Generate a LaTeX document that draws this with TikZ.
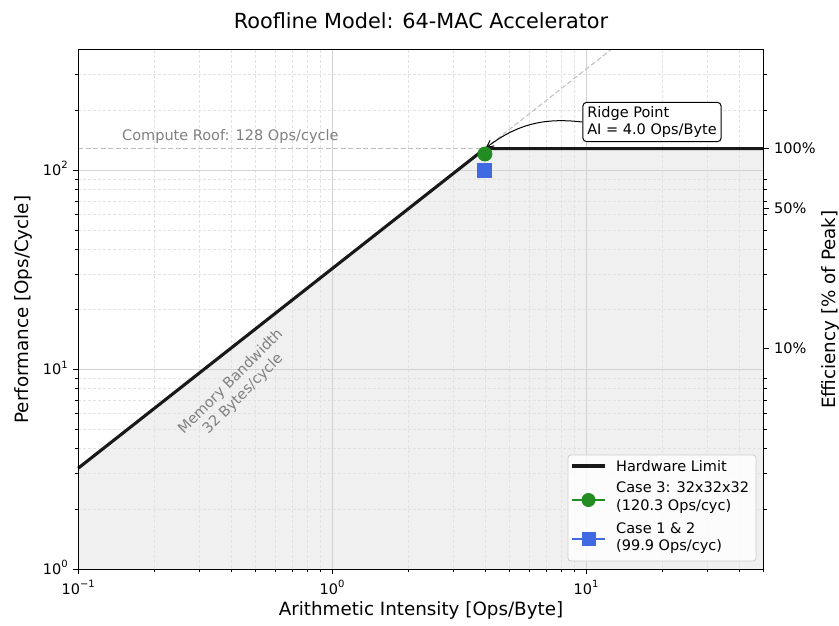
\documentclass[tikz,border=0pt]{standalone}
\usepackage{fontspec}
\setmainfont{DejaVu Sans}
\usetikzlibrary{arrows.meta}
\definecolor{cgreen}{RGB}{34,139,34}
\definecolor{cblue}{RGB}{65,105,225}
\definecolor{majgridc}{RGB}{210,210,210}
\definecolor{mingridc}{RGB}{226,226,226}
\definecolor{roofgray}{RGB}{190,190,190}
\definecolor{fillgray}{RGB}{240,240,240}
\definecolor{txtgray}{RGB}{128,128,128}
\newcommand{\tenp}[1]{10\raisebox{0.45em}{\fontsize{10}{10}\selectfont #1}}
\begin{document}
\begin{tikzpicture}[x=1pt,y=-1pt,
  declare function={X(\a)=78+254*(log10(\a)+1); Y(\b)=569-199.5*log10(\b);},
  mingrid/.style={draw=mingridc, line width=0.8pt, dash pattern=on 3pt off 2pt},
  majgrid/.style={draw=majgridc, line width=0.9pt},
  spine/.style={draw=black, line width=1pt},
  tickmark/.style={draw=black, line width=0.8pt},
  small/.style={font=\fontsize{14.5}{17.4}\selectfont, inner sep=0pt},
  lab/.style={font=\fontsize{18.3}{22}\selectfont, inner sep=0pt},
  marker/.style={inner sep=0pt, minimum size=15pt}]
\useasboundingbox (0,0) rectangle (839,625);
\fill[white] (0,0) rectangle (839,625);
\def\L{78}\def\R{763.5}\def\T{49.9}\def\B{569}
\coordinate (mstart) at ({X(0.1)},{Y(3.2)});
\coordinate (ridge) at ({X(4)},{Y(128)});
\coordinate (rend) at (\R,{Y(128)});
\coordinate (rstart) at (\L,{Y(128)});
\coordinate (mtop) at ({X(12.5)},\T);
% fill under roofline
\fill[fillgray] (\L,\B) -- (mstart) -- (ridge) -- (rend) -- (\R,\B) -- cycle;
% grid
\foreach \v in {0.2,0.3,0.4,0.5,0.6,0.7,0.8,0.9,2,3,4,5,6,7,8,9,20,30,40}
  \draw[mingrid] ({X(\v)},\T) -- ({X(\v)},\B);
\foreach \v in {2,3,4,5,6,7,8,9,20,30,40,50,60,70,80,90,200,300}
  \draw[mingrid] (\L,{Y(\v)}) -- (\R,{Y(\v)});
\foreach \v in {1,10}
  \draw[majgrid] ({X(\v)},\T) -- ({X(\v)},\B);
\foreach \v in {10,100}
  \draw[majgrid] (\L,{Y(\v)}) -- (\R,{Y(\v)});
% reference lines
\draw[roofgray, line width=1pt, dash pattern=on 5pt off 2.5pt] (rstart) -- (rend);
\draw[roofgray, line width=1pt, dash pattern=on 5pt off 2.5pt] (ridge) -- (mtop);
% roofline
\draw[black!90, line width=3.1pt, line join=round] (mstart) -- (ridge) -- (rend);
% spines
\draw[spine] (\L,\T) rectangle (\R,\B);
% ticks bottom
\foreach \v in {0.1,1,10}
  \draw[tickmark] ({X(\v)},\B) -- ++(0,5);
\foreach \v in {0.2,0.3,0.4,0.5,0.6,0.7,0.8,0.9,2,3,4,5,6,7,8,9,20,30,40,50}
  \draw[tickmark] ({X(\v)},\B) -- ++(0,3);
% ticks left
\foreach \v in {1,10,100}
  \draw[tickmark] (\L,{Y(\v)}) -- ++(-5,0);
\foreach \v in {2,3,4,5,6,7,8,9,20,30,40,50,60,70,80,90,200,300}
  \draw[tickmark] (\L,{Y(\v)}) -- ++(-3,0);
% ticks right
\foreach \v in {2,3,4,5,6,7,8,9,20,30,40,50,60,70,80,90,200,300}
  \draw[tickmark] (\R,{Y(\v)}) -- ++(3,0);
\foreach \v in {12.8,64,128}
  \draw[tickmark] (\R,{Y(\v)}) -- ++(5,0);
% tick labels
\node[small, anchor=base] (xt1) at ({X(0.1)},594) {\tenp{−1}};
\node[small, anchor=base] (xt2) at ({X(1)},594) {\tenp{0}};
\node[small, anchor=base] (xt3) at ({X(10)},594) {\tenp{1}};
\node[small, anchor=base east] (yt1) at (68,{Y(1)+5.2}) {\tenp{0}};
\node[small, anchor=base east] (yt2) at (68,{Y(10)+5.2}) {\tenp{1}};
\node[small, anchor=base east] (yt3) at (68,{Y(100)+5.2}) {\tenp{2}};
\node[small, anchor=base west] (rt1) at (774,{Y(128)+5.2}) {100\%};
\node[small, anchor=base west] (rt2) at (774,{Y(64)+5.2}) {50\%};
\node[small, anchor=base west] (rt3) at (774,{Y(12.8)+5.2}) {10\%};
% annotations
\node[small, text=txtgray, anchor=west] (croof) at (122,136) {Compute Roof: 128 Ops/cycle};
\node[small, text=txtgray, rotate=45, align=center] (mbw) at (237,388) {Memory Bandwidth\\32 Bytes/cycle};
\node[small, draw=black, fill=white, rounded corners=4pt, line width=1pt, align=left,
      inner xsep=4.5pt, inner ysep=4pt] (ridgebox) at (652,122) {Ridge Point\\AI = 4.0 Ops/Byte};
\draw[-{Straight Barb[length=7pt,width=7pt]}, line width=1pt, shorten >=1pt]
  (ridgebox.west) to[bend right=22] (ridge);
% data points
\node[marker, circle, fill=cgreen] (c3) at ({X(4)},{Y(120.3)}) {};
\node[marker, rectangle, fill=cblue] (c12) at ({X(4)},{Y(99.9)}) {};
% legend
\node[draw=black!20, fill=white, fill opacity=0.8, rounded corners=3pt, line width=0.8pt,
      minimum width=188pt, minimum height=106pt, inner sep=0pt] (legend) at (662,508) {};
\draw[black!90, line width=3.1pt] (572,466) -- (605,466);
\draw[cgreen, line width=1.5pt] (572,500) -- (605,500);
\node[marker, circle, fill=cgreen, minimum size=14pt] (lg2) at (588.5,500) {};
\draw[cblue, line width=1.5pt] (572,539) -- (605,539);
\node[marker, rectangle, fill=cblue, minimum size=14pt] (lg3) at (588.5,539) {};
\node[small, anchor=west] (l1) at (616,466) {Hardware Limit};
\node[small, anchor=west, align=left] (l2) at (616,497.5) {Case 3: 32x32x32\\(120.3 Ops/cyc)};
\node[small, anchor=west, align=left] (l3) at (616,538) {Case 1 \& 2\\(99.9 Ops/cyc)};
% titles and axis labels
\node[font=\fontsize{20.8}{25}\selectfont, inner sep=0pt, anchor=base] (title) at (421,28) {Roofline Model: 64-MAC Accelerator};
\node[lab, anchor=base] (xlab) at (421,615) {Arithmetic Intensity [Ops/Byte]};
\node[lab, rotate=90] (ylab) at (23,309.5) {Performance [Ops/Cycle]};
\node[lab, rotate=90] (rlab) at (830,309.5) {Efficiency [\% of Peak]};
\end{tikzpicture}
\end{document}
